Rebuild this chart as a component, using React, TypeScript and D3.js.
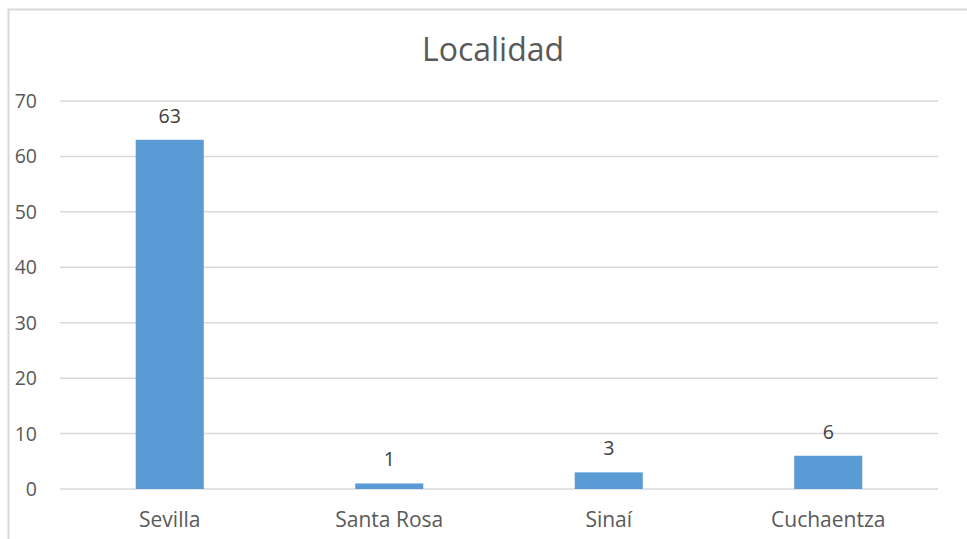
import React from "react";
import * as d3 from "d3";

const categories = ["Sevilla", "Santa Rosa", "Sinaí", "Cuchaentza"];
const values = [63, 1, 3, 6];
const yTicks = [0, 10, 20, 30, 40, 50, 60, 70];
const title = "Localidad";

export default function App() {
  const W = 967;
  const H = 539;
  const left = 60;
  const right = 938;
  const top = 101;
  const bottom = 489;
  const x = d3.scaleBand<string>().domain(categories).range([left, right]).padding(0);
  const y = d3.scaleLinear().domain([0, 70]).range([bottom, top]);
  const bw = x.bandwidth() * 0.31;
  const font = "'Open Sans', 'Liberation Sans', sans-serif";
  return (
    <svg width={W} height={H} style={{ position: "absolute", left: 0, top: 0 }} fontFamily={font}>
      <rect x={0} y={0} width={W} height={H} fill="#fff" />
      <line x1={8} y1={9.5} x2={W} y2={9.5} stroke="#d9d9d9" strokeWidth={2} />
      <line x1={8.5} y1={9} x2={8.5} y2={H} stroke="#d9d9d9" strokeWidth={2} />
      <text x={493} y={61} textAnchor="middle" fontSize={32} fill="#595959">{title}</text>
      {yTicks.map((t) => (
        <g key={t}>
          <line x1={left} x2={right} y1={y(t)} y2={y(t)} stroke="#d9d9d9" strokeWidth={1.5} />
          <text x={37} y={y(t) + 7} textAnchor="end" fontSize={19.5} fill="#595959">{t}</text>
        </g>
      ))}
      {categories.map((c, i) => {
        const cx = (x(c) as number) + x.bandwidth() / 2;
        return (
          <g key={c}>
            <rect x={cx - bw / 2} y={y(values[i])} width={bw} height={y(0) - y(values[i])} fill="#5b9bd5" />
            <text x={cx} y={y(values[i]) - 17} textAnchor="middle" fontSize={19.5} fill="#404040">{values[i]}</text>
            <text x={cx} y={527} textAnchor="middle" fontSize={21} fill="#595959">{c}</text>
          </g>
        );
      })}
    </svg>
  );
}
